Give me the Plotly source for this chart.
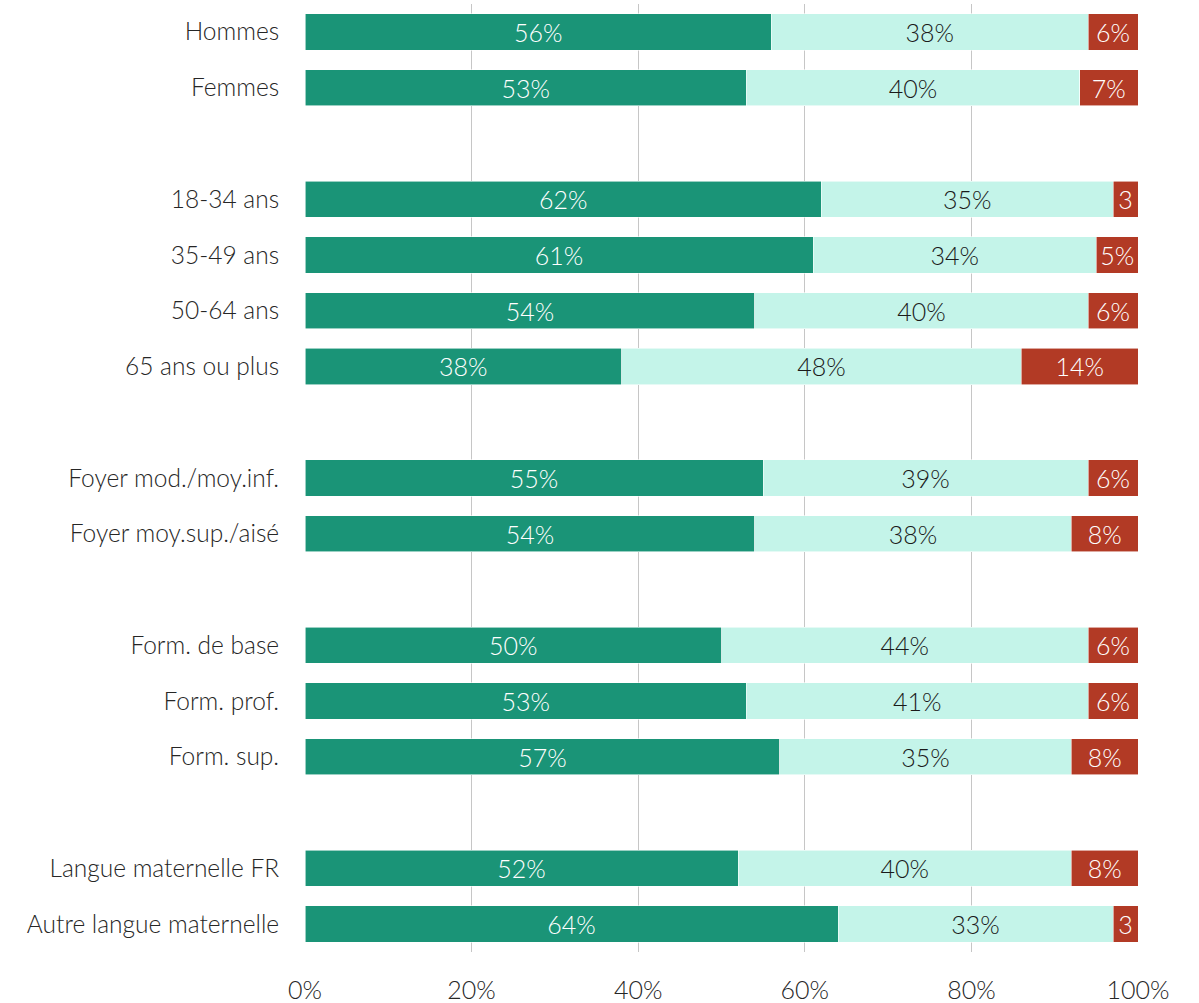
import plotly.graph_objects as go

# Rows from top to bottom; blank strings are spacer rows between groups
categories = [
    "Hommes", "Femmes", " ",
    "18-34 ans", "35-49 ans", "50-64 ans", "65 ans ou plus", "  ",
    "Foyer mod./moy.inf.", "Foyer moy.sup./aisé", "   ",
    "Form. de base", "Form. prof.", "Form. sup.", "    ",
    "Langue maternelle FR", "Autre langue maternelle",
]

oui = [56, 53, None, 62, 61, 54, 38, None, 55, 54, None, 50, 53, 57, None, 52, 64]
non = [38, 40, None, 35, 34, 40, 48, None, 39, 38, None, 44, 41, 35, None, 40, 33]
nsp = [6, 7, None, 3, 5, 6, 14, None, 6, 8, None, 6, 6, 8, None, 8, 3]

x_ticks = [0, 20, 40, 60, 80, 100]
x_tick_labels = ["0%", "20%", "40%", "60%", "80%", "100%"]

FONT = "Lato"


def labels(values):
    out = []
    for v in values:
        if v is None:
            out.append("")
        elif v < 4:
            out.append(f"{v}")  # too narrow for the % sign
        else:
            out.append(f"{v}%")
    return out


series = [
    (oui, "#1A9477", "white"),
    (non, "#C4F4E9", "#1a1a1a"),
    (nsp, "#B23A25", "white"),
]

fig = go.Figure()
for values, color, txtcolor in series:
    fig.add_trace(go.Bar(
        y=categories,
        x=values,
        orientation="h",
        width=0.65,
        marker=dict(color=color, line=dict(color="rgba(255,255,255,0.7)", width=0.8)),
        text=labels(values),
        textposition="inside",
        insidetextanchor="middle",
        textangle=0,
        textfont=dict(family=FONT, size=25, color=txtcolor, weight=300),
        hoverinfo="skip",
        showlegend=False,
    ))

fig.update_layout(
    barmode="stack",
    width=1199,
    height=1003,
    margin=dict(l=305, r=61, t=4, b=51),
    paper_bgcolor="white",
    plot_bgcolor="white",
    uniformtext=dict(mode="show", minsize=24),
    font=dict(family=FONT, color="#262626"),
    xaxis=dict(
        range=[0, 100],
        tickvals=x_ticks,
        ticktext=x_tick_labels,
        showgrid=True,
        gridcolor="#C6C6C6",
        gridwidth=1,
        zeroline=False,
        showline=False,
        ticks="outside",
        ticklen=16,
        tickcolor="rgba(0,0,0,0)",
        automargin=False,
        tickfont=dict(family=FONT, size=25, color="#262626", weight=300),
    ),
    yaxis=dict(
        categoryorder="array",
        categoryarray=categories,
        autorange="reversed",
        showgrid=False,
        zeroline=False,
        showline=False,
        ticks="outside",
        ticklen=20,
        tickcolor="rgba(0,0,0,0)",
        automargin=False,
        tickfont=dict(family=FONT, size=24.5, color="#262626", weight=300),
    ),
)

fig.write_html("out.html")
